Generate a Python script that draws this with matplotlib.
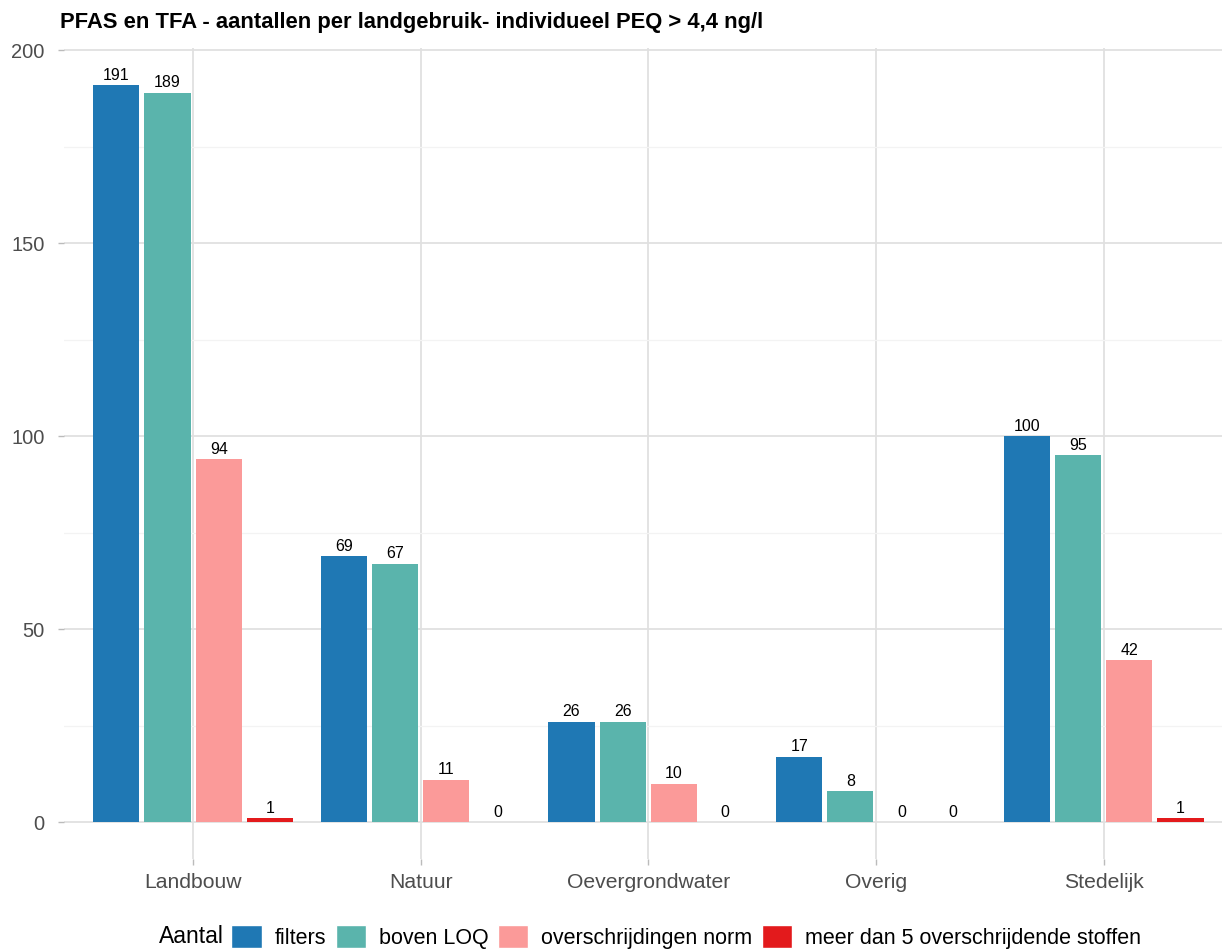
import matplotlib
matplotlib.use("Agg")
import matplotlib.pyplot as plt
import numpy as np
from matplotlib.patches import Patch

plt.rcParams['font.family'] = ['Liberation Sans', 'DejaVu Sans']

# data
categories = ["Landbouw", "Natuur", "Oevergrondwater", "Overig", "Stedelijk"]
series = ["filters", "boven LOQ", "overschrijdingen norm", "meer dan 5 overschrijdende stoffen"]
filters = [191, 69, 26, 17, 100]
boven_loq = [189, 67, 26, 8, 95]
overschrijdingen = [94, 11, 10, 0, 42]
meer_dan_5 = [1, 0, 0, 0, 1]
colors = ["#1F78B4", "#5AB4AC", "#FB9A99", "#E31A1C"]

values = [filters, boven_loq, overschrijdingen, meer_dan_5]

fig = plt.figure(figsize=(12.22, 9.49), dpi=100)
ax = fig.add_axes([0.0524, 0.0948, 0.9476, 0.8546])

x = np.arange(1, len(categories) + 1)
slot = 0.225
offsets = (np.arange(4) - 1.5) * slot

for i in range(4):
    xs = x + offsets[i]
    ax.bar(xs, values[i], width=0.203, color=colors[i], linewidth=0, zorder=3)
    for xv, yv in zip(xs, values[i]):
        ax.text(xv, yv + 0.6, str(yv), ha='center', va='bottom',
                fontsize=11.5, color='black', zorder=4)

ax.set_xlim(0.433, 5.52)
ax.set_ylim(-9.55, 200.55)
ax.set_xticks(x)
ax.set_xticklabels(categories)
ax.set_yticks([0, 50, 100, 150, 200])
ax.set_yticks([25, 75, 125, 175], minor=True)
ax.tick_params(axis='both', which='major', labelsize=14.5, labelcolor='#4D4D4D',
               color='#BBBBBB', length=4, width=1)
ax.tick_params(axis='x', pad=6, labelsize=15.2)
ax.tick_params(axis='y', pad=10)
ax.tick_params(which='minor', length=0)
ax.grid(which='major', color='#E0E0E0', linewidth=1.3, zorder=0)
ax.grid(which='minor', axis='y', color='#F3F3F3', linewidth=0.9, zorder=0)
ax.set_axisbelow(True)
for s in ax.spines.values():
    s.set_visible(False)

fig.text(0.049, 0.976, "PFAS en TFA - aantallen per landgebruik- individueel PEQ > 4,4 ng/l",
         fontsize=15.8, fontweight='bold', ha='left', va='center')

handles = [Patch(facecolor=c, edgecolor='white') for c in colors]
fig.legend(handles, series, loc='center', bbox_to_anchor=(0.5615, 0.013), ncol=4,
           frameon=False, fontsize=15.5, handlelength=1.4, handleheight=1.3,
           handletextpad=0.6, columnspacing=0.45, borderpad=0)
fig.text(0.183, 0.013, "Aantal", fontsize=16.5, ha='right', va='center')

fig.savefig("out.png", dpi=100)
